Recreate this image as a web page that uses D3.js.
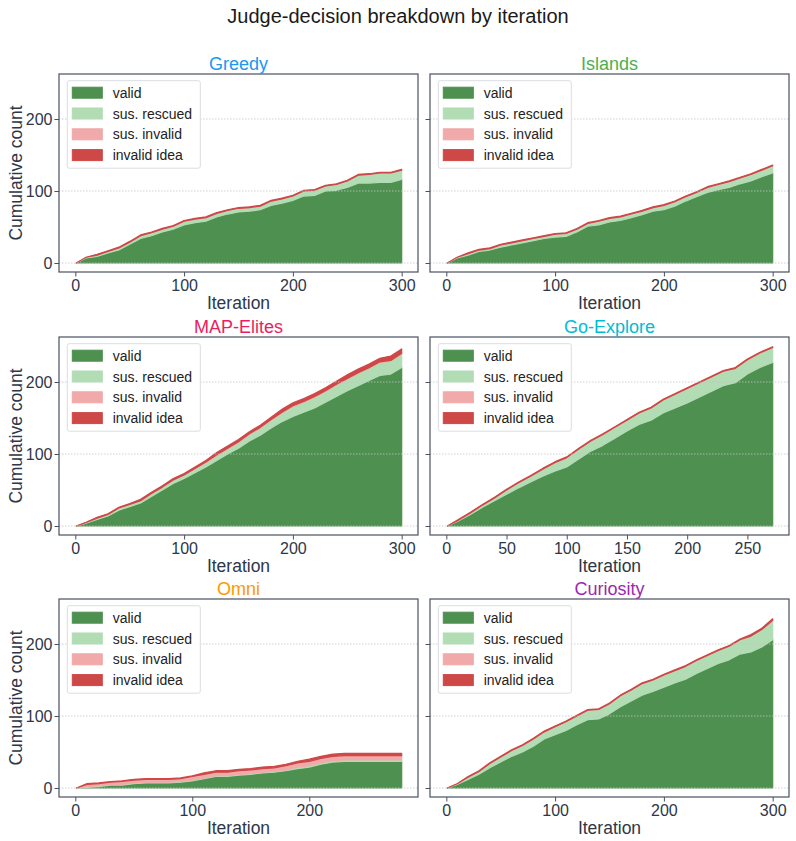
<!DOCTYPE html>
<html>
<head>
    <title>Judge-decision breakdown by iteration</title>
    <script src="https://cdnjs.cloudflare.com/ajax/libs/d3/7.8.5/d3.min.js"></script>
    <style>
        body { margin: 0; background: #fff; }
        svg text { font-family: "Liberation Sans", Arial, sans-serif; }
    </style>
</head>
<body>
    <div id="chart"></div>
    <script>
        // layer keys / legend labels, bottom to top
        const LAYER_KEYS = ['valid', 'rescued', 'susInvalid', 'invalid'];
        const LAYER_LABELS = ['valid', 'sus. rescued', 'sus. invalid', 'invalid idea'];
        const LAYER_COLORS = {
            valid: '#4d904f',
            rescued: '#b2dcb4',
            susInvalid: '#f1a9a9',
            invalid: '#ce4848'
        };

        const Y_TICKS = [0, 100, 200];

        const iter300 = [1, 10, 20, 30, 40, 50, 60, 70, 80, 90, 100, 110, 120, 130, 140, 150, 160, 170, 180, 190, 200, 210, 220, 230, 240, 250, 260, 270, 280, 290, 300];
        const iterGoExplore = [1, 10, 20, 30, 40, 50, 60, 70, 80, 90, 100, 110, 120, 130, 140, 150, 160, 170, 180, 190, 200, 210, 220, 230, 240, 250, 260, 271];
        const iterOmni = [1, 10, 20, 30, 40, 50, 60, 70, 80, 90, 100, 110, 120, 130, 140, 150, 160, 170, 180, 190, 200, 210, 220, 230, 240, 250, 260, 270, 279];

        // Greedy
        const greedyValid = [0, 7, 9, 14, 18, 26, 34, 38, 43, 47, 53, 56, 58, 64, 68, 71, 72, 74, 80, 83, 87, 93, 94, 100, 101, 105, 111, 111, 112, 112, 116];
        const greedyRescued = [0, 1, 2, 2, 3, 3, 4, 4, 4, 4, 5, 5, 5, 5, 5, 5, 5, 5, 6, 6, 6, 7, 7, 7, 8, 9, 11, 12, 13, 13, 13];
        const greedySusInvalid = [0, 0, 0, 0, 0, 0, 0, 0, 0, 0, 0, 0, 0, 0, 0, 0, 0, 0, 0, 0, 0, 0, 0, 0, 0, 0, 0, 0, 0, 0, 0];
        const greedyInvalid = [0, 0, 1, 1, 1, 1, 1, 1, 1, 1, 1, 1, 1, 1, 1, 1, 1, 1, 1, 1, 1, 1, 1, 1, 1, 1, 1, 1, 1, 1, 1];

        // Islands
        const islandsValid = [0, 7, 11, 16, 18, 22, 25, 28, 31, 34, 36, 37, 43, 51, 53, 57, 59, 63, 67, 72, 74, 79, 86, 92, 98, 102, 105, 110, 114, 120, 125];
        const islandsRescued = [0, 1, 2, 2, 2, 3, 3, 3, 3, 3, 4, 4, 4, 4, 5, 5, 5, 5, 5, 5, 6, 6, 6, 6, 7, 7, 8, 8, 9, 9, 10];
        const islandsSusInvalid = [0, 0, 0, 0, 0, 0, 0, 0, 0, 0, 0, 0, 0, 0, 0, 0, 0, 0, 0, 0, 0, 0, 0, 0, 0, 0, 0, 0, 0, 0, 0];
        const islandsInvalid = [0, 0, 1, 1, 1, 1, 1, 1, 1, 1, 1, 1, 1, 1, 1, 1, 1, 1, 1, 1, 1, 1, 1, 1, 1, 1, 1, 1, 1, 1, 1];

        // MAP-Elites
        const mapElitesValid = [0, 4, 9, 14, 22, 27, 32, 41, 50, 59, 66, 74, 82, 91, 100, 108, 118, 126, 136, 145, 152, 158, 164, 172, 180, 188, 195, 202, 209, 211, 220];
        const mapElitesRescued = [0, 1, 2, 2, 3, 3, 3, 4, 4, 5, 5, 6, 6, 7, 7, 8, 9, 10, 11, 12, 14, 14, 15, 15, 16, 16, 17, 17, 18, 18, 19];
        const mapElitesSusInvalid = [0, 0, 0, 0, 0, 0, 0, 0, 0, 0, 0, 0, 1, 1, 1, 1, 1, 1, 1, 1, 1, 1, 1, 1, 1, 1, 1, 1, 1, 1, 1];
        const mapElitesInvalid = [0, 0, 1, 1, 1, 1, 2, 2, 2, 2, 2, 2, 2, 3, 3, 3, 3, 3, 3, 4, 4, 4, 4, 4, 4, 5, 5, 5, 5, 6, 6];

        // Go-Explore
        const goExploreValid = [0, 7, 16, 26, 35, 44, 53, 61, 69, 76, 82, 93, 104, 112, 122, 132, 141, 147, 157, 164, 171, 179, 187, 195, 199, 211, 220, 227];
        const goExploreRescued = [0, 1, 2, 3, 4, 6, 7, 8, 10, 12, 13, 14, 14, 15, 15, 15, 16, 17, 18, 19, 20, 20, 20, 20, 20, 20, 20, 21];
        const goExploreSusInvalid = [0, 0, 0, 0, 0, 0, 0, 0, 0, 0, 0, 0, 0, 0, 0, 0, 0, 0, 0, 0, 0, 0, 0, 0, 0, 0, 0, 0];
        const goExploreInvalid = [0, 1, 1, 1, 1, 1, 1, 1, 1, 1, 1, 1, 1, 1, 1, 1, 1, 1, 1, 1, 1, 1, 1, 1, 1, 1, 1, 1];

        // Omni
        const omniValid = [0, 1, 2, 4, 4, 6, 7, 7, 7, 8, 10, 13, 16, 16, 18, 19, 21, 22, 24, 27, 29, 33, 36, 37, 37, 37, 37, 37, 37];
        const omniRescued = [0, 1, 1, 1, 1, 1, 1, 1, 1, 1, 1, 1, 1, 1, 1, 1, 1, 1, 1, 2, 2, 2, 2, 2, 2, 2, 2, 2, 2];
        const omniSusInvalid = [0, 3, 3, 3, 4, 4, 4, 4, 4, 4, 5, 5, 5, 5, 5, 5, 5, 5, 6, 6, 6, 6, 6, 6, 6, 6, 6, 6, 6];
        const omniInvalid = [0, 1, 1, 1, 1, 1, 1, 1, 1, 1, 1, 2, 2, 2, 2, 2, 2, 2, 2, 2, 3, 3, 3, 3, 3, 3, 3, 3, 3];

        // Curiosity
        const curiosityValid = [0, 5, 12, 19, 28, 36, 44, 50, 58, 68, 74, 80, 88, 95, 96, 103, 113, 121, 129, 134, 140, 146, 151, 159, 166, 173, 178, 186, 189, 196, 206];
        const curiosityRescued = [0, 1, 3, 4, 6, 7, 8, 9, 10, 10, 11, 12, 12, 13, 13, 14, 15, 15, 16, 16, 17, 17, 18, 18, 18, 18, 19, 20, 22, 24, 27];
        const curiositySusInvalid = [0, 0, 0, 0, 0, 0, 0, 0, 0, 0, 0, 0, 0, 0, 0, 0, 0, 0, 0, 0, 0, 0, 0, 0, 0, 0, 0, 0, 0, 0, 0];
        const curiosityInvalid = [0, 0, 1, 1, 1, 1, 1, 1, 1, 1, 1, 1, 1, 1, 1, 1, 1, 1, 1, 1, 1, 1, 1, 1, 1, 1, 1, 1, 2, 2, 2];

        const panels = [
            { name: 'Greedy', color: '#2196f3', iters: iter300, xMax: 300, xTicks: [0, 100, 200, 300],
              layers: [greedyValid, greedyRescued, greedySusInvalid, greedyInvalid] },
            { name: 'Islands', color: '#4caf50', iters: iter300, xMax: 300, xTicks: [0, 100, 200, 300],
              layers: [islandsValid, islandsRescued, islandsSusInvalid, islandsInvalid] },
            { name: 'MAP-Elites', color: '#e91e63', iters: iter300, xMax: 300, xTicks: [0, 100, 200, 300],
              layers: [mapElitesValid, mapElitesRescued, mapElitesSusInvalid, mapElitesInvalid] },
            { name: 'Go-Explore', color: '#00bcd4', iters: iterGoExplore, xMax: 271, xTicks: [0, 50, 100, 150, 200, 250],
              layers: [goExploreValid, goExploreRescued, goExploreSusInvalid, goExploreInvalid] },
            { name: 'Omni', color: '#ff9800', iters: iterOmni, xMax: 279, xTicks: [0, 100, 200],
              layers: [omniValid, omniRescued, omniSusInvalid, omniInvalid] },
            { name: 'Curiosity', color: '#9c27b0', iters: iter300, xMax: 300, xTicks: [0, 100, 200, 300],
              layers: [curiosityValid, curiosityRescued, curiositySusInvalid, curiosityInvalid] }
        ];

        const width = 796, height = 841;
        const colX = [59, 430];
        const rowY = [74, 337, 599];
        const pw = 359, ph = 198;
        const SPINE = '#4a5060';
        const TEXT = '#2d3748';

        const svg = d3.select('#chart')
            .append('svg')
            .attr('width', width)
            .attr('height', height);

        svg.append('rect').attr('width', width).attr('height', height).attr('fill', '#fff');

        svg.append('text')
            .attr('x', 398)
            .attr('y', 23)
            .attr('text-anchor', 'middle')
            .style('font-size', '20px')
            .attr('fill', '#1a1a1a')
            .text('Judge-decision breakdown by iteration');

        // shared y
        const y = d3.scaleLinear().domain([-12.5, 262.5]).range([ph, 0]);

        const stack = d3.stack().keys(LAYER_KEYS);

        panels.forEach((p, i) => {
            const col = i % 2, row = Math.floor(i / 2);
            const g = svg.append('g')
                .attr('transform', `translate(${colX[col]},${rowY[row]})`);

            const x = d3.scaleLinear()
                .domain([-0.05 * p.xMax, 1.05 * p.xMax])
                .range([0, pw]);

            const table = p.iters.map((it, k) => {
                const r = { iter: it };
                LAYER_KEYS.forEach((key, j) => { r[key] = p.layers[j][k]; });
                return r;
            });
            const series = stack(table);

            const area = d3.area()
                .x(d => x(d.data.iter))
                .y0(d => y(d[0]))
                .y1(d => y(d[1]));

            g.selectAll('path.layer')
                .data(series)
                .enter()
                .append('path')
                .attr('class', 'layer')
                .attr('d', area)
                .attr('fill', d => LAYER_COLORS[d.key])
                .attr('stroke', d => LAYER_COLORS[d.key])
                .attr('stroke-width', 1.2)
                .attr('stroke-linejoin', 'round');

            // dotted y grid, drawn over the areas
            g.selectAll('line.grid')
                .data(Y_TICKS)
                .enter()
                .append('line')
                .attr('x1', 0)
                .attr('x2', pw)
                .attr('y1', d => y(d))
                .attr('y2', d => y(d))
                .attr('stroke', '#c4c4c4')
                .attr('stroke-width', 0.8)
                .attr('stroke-dasharray', '1.5,1.5');

            // axes
            const xAxis = g.append('g')
                .attr('transform', `translate(0,${ph})`)
                .call(d3.axisBottom(x).tickValues(p.xTicks).tickSize(4.5).tickPadding(3.5));
            const yAxis = g.append('g')
                .call(d3.axisLeft(y).tickValues(Y_TICKS).tickSize(4.5).tickPadding(2)
                    .tickFormat(col === 0 ? d3.format('d') : () => ''));
            [xAxis, yAxis].forEach(a => {
                a.select('.domain').remove();
                a.selectAll('line').attr('stroke', SPINE).attr('stroke-width', 1);
                a.selectAll('text')
                    .attr('fill', TEXT)
                    .style('font-size', '16px')
                    .style('font-family', '"Liberation Sans", Arial, sans-serif');
            });

            // frame
            g.append('rect')
                .attr('width', pw)
                .attr('height', ph)
                .attr('fill', 'none')
                .attr('stroke', SPINE)
                .attr('stroke-width', 1.2);

            // panel title
            g.append('text')
                .attr('x', pw / 2)
                .attr('y', -4)
                .attr('text-anchor', 'middle')
                .attr('fill', p.color)
                .style('font-size', '18px')
                .text(p.name);

            // axis labels
            g.append('text')
                .attr('x', pw / 2)
                .attr('y', ph + 37)
                .attr('text-anchor', 'middle')
                .attr('fill', TEXT)
                .style('font-size', '17.5px')
                .text('Iteration');

            if (col === 0) {
                g.append('text')
                    .attr('transform', `translate(${22 - colX[0]},${ph / 2}) rotate(-90)`)
                    .attr('text-anchor', 'middle')
                    .attr('fill', TEXT)
                    .style('font-size', '17.5px')
                    .text('Cumulative count');
            }

            // legend
            const legend = g.append('g').attr('transform', 'translate(8.3,6.7)');
            legend.append('rect')
                .attr('width', 133)
                .attr('height', 87.5)
                .attr('rx', 2)
                .attr('fill', '#fff')
                .attr('fill-opacity', 0.85)
                .attr('stroke', '#dadde2')
                .attr('stroke-width', 1);

            LAYER_KEYS.forEach((key, j) => {
                const item = legend.append('g')
                    .attr('transform', `translate(0,${12 + j * 20.8})`);
                item.append('rect')
                    .attr('x', 5)
                    .attr('y', -5.5)
                    .attr('width', 30)
                    .attr('height', 11)
                    .attr('fill', LAYER_COLORS[key])
                    .attr('stroke', LAYER_COLORS[key])
                    .attr('stroke-width', 1);
                item.append('text')
                    .attr('x', 45.4)
                    .attr('dy', '0.36em')
                    .attr('fill', '#222')
                    .style('font-size', '14px')
                    .text(LAYER_LABELS[j]);
            });
        });
    </script>
</body>
</html>
